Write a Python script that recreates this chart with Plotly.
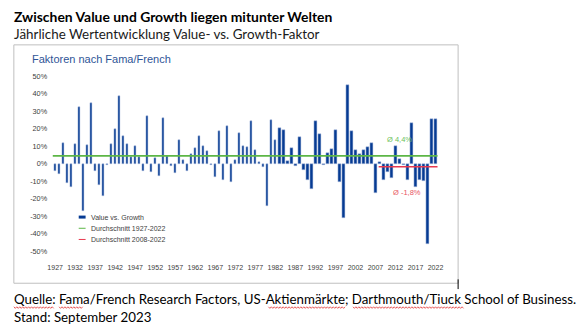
import plotly.graph_objects as go

W, H = 585, 333

years = list(range(1927, 2023))
value_vs_growth = [
    -4, -6, 12, -11, -13.4, 11.4, 32.4, -27, 10.4, 34.6,
    -4, -12, -18.5, -0.7, 11.4, 20, 38.8, 16, 11, 3.5,
    10, 4, -4, 27, -5, 3, -7.3, 26, 4.4, -1.5,
    -5.5, 13.5, 1.8, -4.4, 5.3, 9, 15.7, 10, 7.3, -0.7,
    -7.7, 18.5, -9.5, 21.6, -10.6, 1.8, 17.6, 10, 9.3, 24.5,
    7.7, 1, -1.8, -24, 25, 13.5, 20.5, 19, 1.6, 9,
    -1.5, 15, -3.8, -9.5, -14.3, 24.5, 16.8, -0.7, 5.9, 8.6,
    19, -10.3, -30.8, 44.7, 18.5, 8, 5.3, 8, 9.2, 12,
    -17, 1, -9.3, -5, -8, 10, 2.6, -1, -9.2, 22.9,
    -13.2, -9.2, -9.9, -45.8, 25.5, 25.6,
]
avg_1927_2022 = 4.4
avg_2008_2022 = -1.8
recent_start = 2008
x_tick_years = list(range(1927, 2023, 5))
y_ticks = list(range(-50, 51, 10))

BAR = "#063b93"
GREEN = "#5cb646"
RED = "#e8394f"
TXT = "#404040"

def px(x):
    return x / W

def py(y):
    return (H - y) / H

fig = go.Figure()
fig.add_trace(go.Bar(
    x=years, y=value_vs_growth, width=0.66,
    marker=dict(color=BAR, line=dict(color="#b9c7e4", width=0.5)),
    showlegend=False, hoverinfo="x+y",
))
fig.add_trace(go.Scatter(
    x=[years[0] - 0.6, years[-1] + 0.5], y=[avg_1927_2022] * 2,
    mode="lines", line=dict(color=GREEN, width=1.6), showlegend=False,
))
fig.add_trace(go.Scatter(
    x=[recent_start - 0.2, years[-1] + 0.5], y=[avg_2008_2022] * 2,
    mode="lines", line=dict(color=RED, width=1.6), showlegend=False,
))

left, right = 48, 441
k = (438 - 51) / (years[-1] - years[0])
r0 = years[0] - (51 - left) / k
r1 = r0 + (right - left) / k

fig.update_layout(
    width=W, height=H, autosize=False,
    margin=dict(l=0, r=0, t=0, b=0),
    paper_bgcolor="white", plot_bgcolor="white",
    bargap=0,
    xaxis=dict(
        domain=[px(left), px(right)], range=[r0, r1],
        tickmode="array", tickvals=x_tick_years,
        ticktext=[str(v) for v in x_tick_years],
        tickfont=dict(family="Liberation Sans", size=7, color=TXT),
        showgrid=False, zeroline=False, showline=False, ticks="",
        ticklabelstandoff=11,
    ),
    yaxis=dict(
        domain=[py(254), py(74)], range=[-50, 50],
        tickmode="array", tickvals=y_ticks,
        ticktext=[f"{v}%" for v in y_ticks],
        tickfont=dict(family="Liberation Sans", size=7.3, color=TXT),
        showgrid=False, zeroline=False, showline=False, ticks="",
        ticklabelstandoff=4,
    ),
    font=dict(family="Liberation Sans"),
)

# outer frame of the chart image
fig.add_shape(type="rect", xref="paper", yref="paper",
              x0=px(9), x1=px(461), y0=py(287), y1=py(42),
              line=dict(color="#bfbfbf", width=1), layer="below")
fig.add_shape(type="line", xref="paper", yref="paper",
              x0=px(461), x1=px(461), y0=py(283), y1=py(293),
              line=dict(color="black", width=1))

def ann(text, x, y, size, color, family="Lato", bold=False, xanchor="left"):
    fig.add_annotation(
        text=f"<b>{text}</b>" if bold else text,
        xref="paper", yref="paper", x=px(x), y=py(y),
        xanchor=xanchor, yanchor="middle", showarrow=False,
        font=dict(family=family, size=size, color=color),
    )

ann("Zwischen Value und Growth liegen mitunter Welten", 7, 13, 13.9, "black", bold=True)
ann("Jährliche Wertentwicklung Value- vs. Growth-Faktor", 7, 31, 13.4, "#1a1a1a")
ann("Quelle: Fama/French Research Factors, US-Aktienmärkte; Darthmouth/Tiuck School of Business.",
    7, 303, 13.3, "black")
ann("Stand: September 2023", 7, 322, 13.3, "black")
ann("Faktoren nach Fama/French", 25, 57, 11, "#2f5597", family="Liberation Sans")

# spell-check squiggles under some words of the source line
def squiggle(x0, x1, y):
    pts = []
    x = x0
    up = True
    while x <= x1:
        pts.append((x, y - 0.8 if up else y + 0.8))
        up = not up
        x += 1.5
    path = "M " + " L ".join(f"{px(a):.5f},{py(b):.5f}" for a, b in pts)
    fig.add_shape(type="path", xref="paper", yref="paper", path=path,
                  line=dict(color="#e03030", width=0.8))

for a, b in [(9, 50), (55, 80), (268, 347), (354, 467)]:
    squiggle(a, b, 312)

# legend
leg = [("Value vs. Growth", BAR, 3), ("Durchschnitt 1927-2022", GREEN, 1),
       ("Durchschnitt 2008-2022", RED, 1)]
for i, (name, col, lw) in enumerate(leg):
    yy = 219 + i * 11.5
    fig.add_shape(type="line", xref="paper", yref="paper",
                  x0=px(75), x1=px(82), y0=py(yy), y1=py(yy),
                  line=dict(color=col, width=lw))
    ann(name, 85, yy, 7, TXT, family="Liberation Sans")

# average labels
fig.add_annotation(text="Ø 4,4%", x=2013.0, y=13.9, xref="x", yref="y",
                   showarrow=False, font=dict(family="Liberation Sans", size=7.5, color="#6cbf5a"))
fig.add_annotation(text="Ø -1,8%", x=2014.9, y=-16.7, xref="x", yref="y",
                   showarrow=False, font=dict(family="Liberation Sans", size=7.5, color="#e8555f"))

fig.write_html("out.html")
